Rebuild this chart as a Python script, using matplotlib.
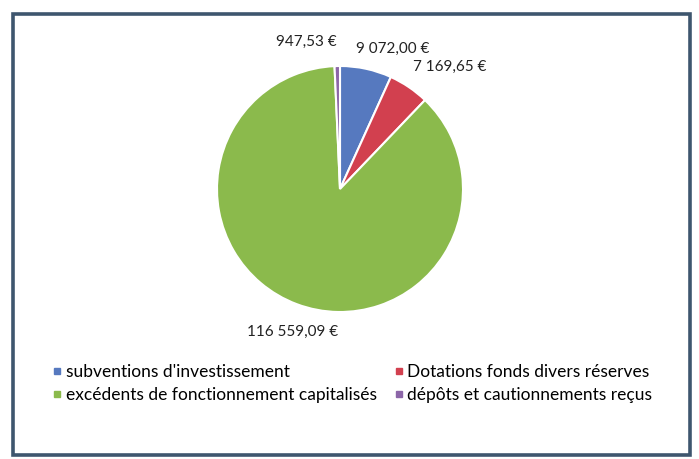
import matplotlib.pyplot as plt
from matplotlib.patches import Rectangle
from matplotlib.lines import Line2D

plt.rcParams['font.family'] = ['Lato', 'DejaVu Sans']

# données
categories = ["subventions d'investissement",
              "Dotations fonds divers réserves",
              "excédents de fonctionnement capitalisés",
              "dépôts et cautionnements reçus"]
values = [9072.00, 7169.65, 116559.09, 947.53]
value_labels = ['9 072,00 €', '7 169,65 €', '116 559,09 €', '947,53 €']
colors = ['#5679BF', '#D2404F', '#8BBA4C', '#8C66A8']

W, H = 699, 459
fig = plt.figure(figsize=(W / 100, H / 100), dpi=100)

# cadre autour du graphique
fig.patches.append(Rectangle((13 / W, 4 / H), 677 / W, 441 / H, transform=fig.transFigure,
                             fill=False, edgecolor='#3E566E', linewidth=2.6))

ax = fig.add_axes([217 / W, 147 / H, 246 / W, 246 / H])
wedges, texts = ax.pie(values, colors=colors, startangle=90, counterclock=False,
                       labels=value_labels, labeldistance=1.2,
                       wedgeprops=dict(edgecolor='white', linewidth=1.5),
                       textprops=dict(fontsize=11, color='#222222'))
ax.set_xlim(-1, 1)
ax.set_ylim(-1, 1)
ax.set_aspect('equal')


def nudge(t, dx, dy):
    x, y = t.get_position()
    t.set_position((x + dx, y + dy))


# petits réglages des étiquettes
nudge(texts[0], -0.12, -0.03)
nudge(texts[1], -0.08, 0)
texts[2].set_ha('center')
nudge(texts[2], 0.04, -0.04)

# ordre en lignes : la légende remplit par colonnes
order = [0, 2, 1, 3]
handles = [Line2D([], [], marker='s', linestyle='none', markersize=5,
                  color=colors[i]) for i in order]
fig.legend(handles, [categories[i] for i in order], ncol=2, loc='upper left',
           bbox_to_anchor=(53 / W, 1 - 364 / H), frameon=False,
           fontsize=12.5, handlelength=0.5, handletextpad=0.25,
           columnspacing=1.0, labelspacing=0.42, borderpad=0, borderaxespad=0)

fig.savefig('out.png', dpi=100)
